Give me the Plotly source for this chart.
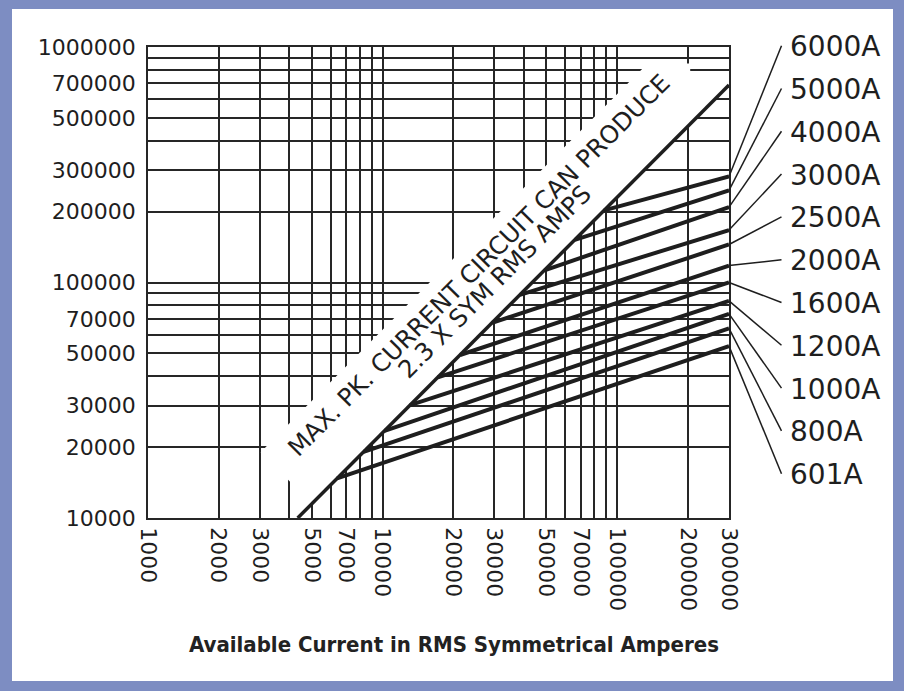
import math
import plotly.graph_objects as go

# Axes log-log : bornes, lignes de grille et graduations étiquetées
X_RANGE = (1000, 300000)
Y_RANGE = (10000, 1000000)
X_GRID = [1000, 2000, 3000, 4000, 5000, 6000, 7000, 8000, 9000,
          10000, 20000, 30000, 40000, 50000, 60000, 70000, 80000, 90000,
          100000, 200000, 300000]
X_TICK_LABELS = [1000, 2000, 3000, 5000, 7000, 10000, 20000, 30000, 50000,
                 70000, 100000, 200000, 300000]
Y_GRID = [10000, 20000, 30000, 40000, 50000, 60000, 70000, 80000, 90000,
          100000, 200000, 300000, 400000, 500000, 600000, 700000, 800000,
          900000, 1000000]
Y_TICK_LABELS = [10000, 20000, 30000, 50000, 70000, 100000, 200000, 300000,
                 500000, 700000, 1000000]

# Crête max = 2.3 x courant RMS symétrique
PEAK_FACTOR = 2.3

FUSE_LABELS = ["6000A", "5000A", "4000A", "3000A", "2500A", "2000A",
               "1600A", "1200A", "1000A", "800A", "601A"]
# courant RMS où chaque courbe quitte la droite 2.3x
FUSE_KNEE_RMS = [88000, 66000, 49000, 38500, 29300, 21400, 17200, 13100,
                 10200, 8300, 6400]
# courant crête laissé passer à 300000 A RMS
FUSE_PEAK_300K = [282000, 246000, 209000, 167000, 145000, 118000, 100000,
                  83500, 73600, 63900, 53700]

TITLE = "Available Current in RMS Symmetrical Amperes"
BAND_LINE_1 = "MAX. PK. CURRENT CIRCUIT CAN PRODUCE"
BAND_LINE_2 = "2.3 X SYM RMS AMPS"

# Mise en page (pixels)
W, H = 904, 691
M = dict(l=148, r=175, t=47, b=173)
PW = W - M["l"] - M["r"]
PH = H - M["t"] - M["b"]
INK = "#1e1e1e"
FRAME = "#7d8dc2"
CAD_FONT = "DejaVu Sans"

# Bande blanche (sans quadrillage) au-dessus de la droite 2.3x
BAND_UPPER_FACTOR = 6.3
BAND_START_LOGSUM = 7.76
CORNER_TOP, CORNER_STEP_X, CORNER_STEP_Y = 850000, 205000, 750000


def px_x(p):
    return (p - M["l"]) / PW


def px_y(p):
    return 1 - (p - M["t"]) / PH


def data_y_paper(v):
    lo, hi = math.log10(Y_RANGE[0]), math.log10(Y_RANGE[1])
    return (math.log10(v) - lo) / (hi - lo)


fig = go.Figure()

# masque blanc de la bande
s = 10 ** BAND_START_LOGSUM
xa = math.sqrt(s / PEAK_FACTOR)
xb = math.sqrt(s / BAND_UPPER_FACTOR)
band_x = [xa, xb, CORNER_TOP / BAND_UPPER_FACTOR, CORNER_STEP_X, CORNER_STEP_X,
          X_RANGE[1], X_RANGE[1], xa]
band_y = [PEAK_FACTOR * xa, BAND_UPPER_FACTOR * xb, CORNER_TOP, CORNER_TOP,
          CORNER_STEP_Y, CORNER_STEP_Y, PEAK_FACTOR * X_RANGE[1], PEAK_FACTOR * xa]
fig.add_trace(go.Scatter(x=band_x, y=band_y, mode="lines", fill="toself",
                         fillcolor="white", line=dict(width=0),
                         hoverinfo="skip", showlegend=False))

# droite 2.3 x RMS
fig.add_trace(go.Scatter(x=[Y_RANGE[0] / PEAK_FACTOR, X_RANGE[1]],
                         y=[Y_RANGE[0], PEAK_FACTOR * X_RANGE[1]],
                         mode="lines", line=dict(color=INK, width=3.5),
                         hoverinfo="skip", showlegend=False))

# courbes des fusibles
for label, knee, peak in zip(FUSE_LABELS, FUSE_KNEE_RMS, FUSE_PEAK_300K):
    fig.add_trace(go.Scatter(x=[knee, X_RANGE[1]], y=[PEAK_FACTOR * knee, peak],
                             mode="lines", name=label,
                             line=dict(color=INK, width=4),
                             hovertemplate=label + "<br>%{x} A RMS : %{y} A crête<extra></extra>",
                             showlegend=False))

shapes = [dict(type="rect", xref="paper", yref="paper", layer="below",
               x0=px_x(12), x1=px_x(893), y0=px_y(681), y1=px_y(9),
               fillcolor="white", line=dict(width=0))]
annotations = []

# étiquettes à droite avec lignes de rappel
for i, (label, peak) in enumerate(zip(FUSE_LABELS, FUSE_PEAK_300K)):
    ly = 46.7 + 42.8 * i
    shapes.append(dict(type="line", xref="paper", yref="paper",
                       x0=1, y0=data_y_paper(peak), x1=px_x(781.5), y1=px_y(ly - 1),
                       line=dict(color=INK, width=1.5)))
    annotations.append(dict(text=label, xref="paper", yref="paper",
                            x=px_x(788), y=px_y(ly), xanchor="left", yanchor="middle",
                            showarrow=False,
                            font=dict(family=CAD_FONT, size=28, color=INK)))

# texte de la bande, incliné à 45°
for text, cx, cy in ((BAND_LINE_1, 478.5, 265.5), (BAND_LINE_2, 494.5, 281)):
    annotations.append(dict(text=text, xref="paper", yref="paper",
                            x=px_x(cx), y=px_y(cy), textangle=-45,
                            xanchor="center", yanchor="middle", showarrow=False,
                            font=dict(family=CAD_FONT, size=24.5, color=INK)))

# titre de l'axe x
annotations.append(dict(text="<b>" + TITLE + "</b>", xref="paper", yref="paper",
                        x=px_x(453.5), y=px_y(644), xanchor="center", yanchor="middle",
                        showarrow=False,
                        font=dict(family="Liberation Sans Narrow, DejaVu Sans Condensed, Liberation Sans",
                                  size=22, color="#222222")))

axis_style = dict(type="log", showgrid=True, gridcolor="#262626", gridwidth=1.5,
                  showline=True, linecolor="#262626", linewidth=1.5, mirror=True,
                  ticks="", zeroline=False,
                  tickfont=dict(family=CAD_FONT, size=22, color=INK))

fig.update_layout(
    width=W, height=H, autosize=False,
    margin=M,
    paper_bgcolor=FRAME,
    plot_bgcolor="white",
    showlegend=False,
    xaxis=dict(axis_style,
               range=[math.log10(X_RANGE[0]), math.log10(X_RANGE[1])],
               tickvals=X_GRID,
               ticktext=[str(v) if v in X_TICK_LABELS else "" for v in X_GRID],
               tickangle=90, ticklabelstandoff=3),
    yaxis=dict(axis_style,
               range=[math.log10(Y_RANGE[0]), math.log10(Y_RANGE[1])],
               tickvals=Y_GRID,
               ticktext=[str(v) if v in Y_TICK_LABELS else "" for v in Y_GRID],
               ticklabelstandoff=6),
    shapes=shapes,
    annotations=annotations,
)

fig.write_html("out.html", config={"displayModeBar": False},
               post_script="document.body.style.margin='0';")
